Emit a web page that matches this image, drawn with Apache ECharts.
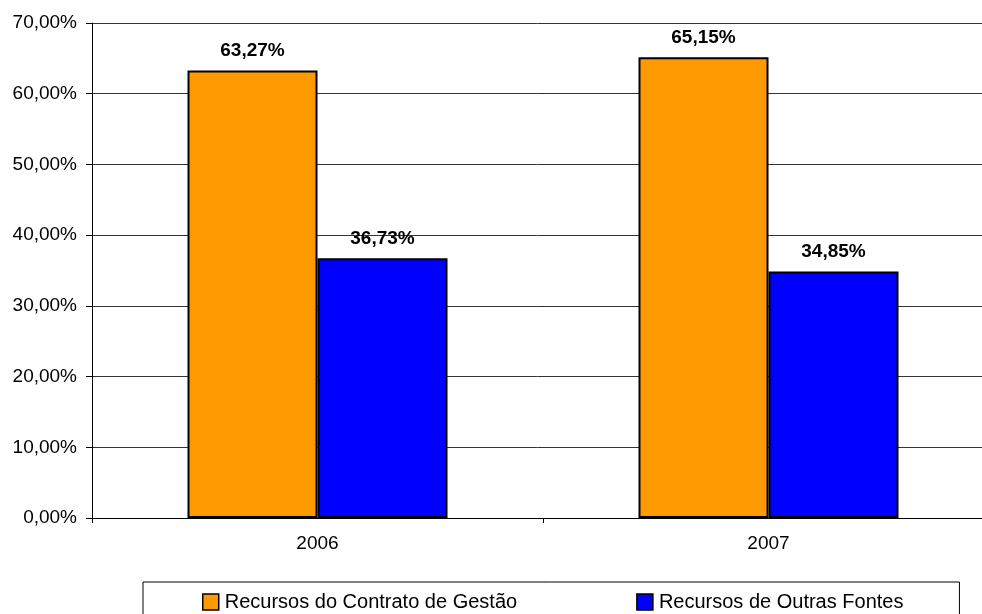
<!DOCTYPE html>
<html>
<head>
<meta charset="utf-8">
<script src="https://cdn.jsdelivr.net/npm/echarts@6/dist/echarts.min.js"></script>
<style>html,body{margin:0;padding:0;background:#fff;overflow:hidden;}#c{width:982px;height:614px;}</style>
</head>
<body>
<div id="c"></div>
<script>
const categories = ['2006', '2007'];
const seriesNames = ['Recursos do Contrato de Gestão', 'Recursos de Outras Fontes'];
const contratoValues = [63.27, 65.15];
const outrasValues = [36.73, 34.85];
const yTicks = [0, 10, 20, 30, 40, 50, 60, 70];

const fmt = v => v.toFixed(2).replace('.', ',') + '%';
const font = 'Liberation Sans, Arial, sans-serif';

const chart = echarts.init(document.getElementById('c'));
chart.setOption({
  animation: false,
  backgroundColor: '#fff',
  grid: { left: 92, width: 902, top: 23, height: 495, containLabel: false, outerBoundsMode: 'none' },
  legend: {
    left: 143, top: 582,
    itemWidth: 16, itemHeight: 16, itemGap: 119,
    padding: [10, 56, 10, 59],
    borderColor: '#000', borderWidth: 1,
    icon: 'rect',
    itemStyle: { borderColor: '#000', borderWidth: 1.5 },
    textStyle: { fontFamily: font, fontSize: 20, color: '#000', padding: [0, 0, 0, 1] },
    data: seriesNames
  },
  xAxis: {
    type: 'category', data: categories,
    axisLine: { lineStyle: { color: '#000', width: 1 } },
    axisTick: { show: true, length: 5, lineStyle: { color: '#000' } },
    axisLabel: { fontFamily: font, fontSize: 19, color: '#000', margin: 16 }
  },
  yAxis: {
    type: 'value', min: yTicks[0], max: yTicks[yTicks.length - 1], interval: 10,
    axisLine: { show: true, lineStyle: { color: '#000', width: 1 } },
    axisTick: { show: true, length: 6, lineStyle: { color: '#000' } },
    splitLine: { lineStyle: { color: '#333', width: 1 } },
    axisLabel: { fontFamily: font, fontSize: 19, color: '#000', margin: 15, formatter: v => fmt(v) }
  },
  series: [
    {
      name: seriesNames[0], type: 'bar', data: contratoValues,
      barWidth: 130, barGap: '0%',
      itemStyle: { color: '#FF9900', borderColor: '#000', borderWidth: 2 },
      label: { show: true, position: 'top', distance: 10, fontFamily: font, fontSize: 19, fontWeight: 'bold', color: '#000', formatter: p => fmt(p.value) }
    },
    {
      name: seriesNames[1], type: 'bar', data: outrasValues,
      barWidth: 130, barGap: '0%',
      itemStyle: { color: '#0000FF', borderColor: '#000', borderWidth: 2 },
      label: { show: true, position: 'top', distance: 10, fontFamily: font, fontSize: 19, fontWeight: 'bold', color: '#000', formatter: p => fmt(p.value) }
    }
  ]
});
</script>
</body>
</html>
